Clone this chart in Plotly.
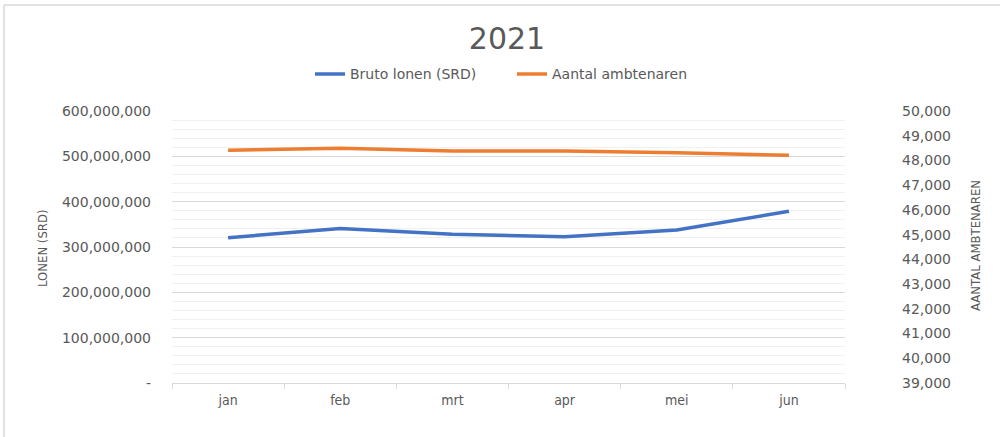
import plotly.graph_objects as go

months = ["jan", "feb", "mrt", "apr", "mei", "jun"]
bruto_lonen = [320500000, 341000000, 328000000, 322700000, 337500000, 378700000]
ambtenaren = [48410, 48490, 48380, 48380, 48310, 48210]

left_ticks = [0, 100e6, 200e6, 300e6, 400e6, 500e6, 600e6]
left_text = ["-", "100,000,000", "200,000,000", "300,000,000",
             "400,000,000", "500,000,000", "600,000,000"]

narrow = "Liberation Sans Narrow, DejaVu Sans Condensed, Arial Narrow, sans-serif"
wide = "DejaVu Sans, Verdana, sans-serif"
grey = "#595959"

fig = go.Figure()
fig.add_trace(go.Scatter(x=months, y=bruto_lonen, mode="lines",
                         name="Bruto lonen (SRD)",
                         line=dict(color="#4472C4", width=3.5)))
fig.add_trace(go.Scatter(x=months, y=ambtenaren, mode="lines",
                         name="Aantal ambtenaren", yaxis="y2",
                         line=dict(color="#ED7D31", width=3.5)))

fig.update_layout(
    width=1000, height=437,
    margin=dict(l=172, r=155, t=111, b=54),
    paper_bgcolor="white", plot_bgcolor="white",
    showlegend=True,
    title=dict(text="2021", x=0.507, xanchor="center", y=0.913, yanchor="middle",
               font=dict(family=wide, size=30, color=grey)),
    legend=dict(orientation="h", x=(310 - 172) / 673, xanchor="left", y=1.135,
                yanchor="middle", font=dict(family=wide, size=14, color=grey),
                entrywidth=157, tracegroupgap=0),
    xaxis=dict(type="category", range=[-0.5, 5.5], showgrid=False, showline=True,
               linecolor="#D9D9D9", ticks="outside", tickson="boundaries", ticklen=5,
               tickcolor="#D9D9D9", ticklabelstandoff=4,
               tickfont=dict(family=narrow, size=14, color=grey), fixedrange=True),
    yaxis=dict(range=[0, 600e6], tickvals=left_ticks, ticktext=left_text,
               showgrid=True, gridcolor="#D9D9D9", gridwidth=1, zeroline=False,
               minor=dict(dtick=20e6, showgrid=True, gridcolor="#F0F0F0", gridwidth=1),
               tickfont=dict(family=wide, size=14, color=grey),
               ticklabelstandoff=20),
    yaxis2=dict(range=[39000, 50000], dtick=1000, tickformat=",d", overlaying="y",
                side="right", showgrid=False, zeroline=False,
                tickfont=dict(family=wide, size=14, color=grey),
                ticklabelstandoff=56),
    annotations=[
        dict(text="LONEN (SRD)", textangle=-90, xref="paper", yref="paper",
             x=(42 - 172) / 673, y=(383 - 248) / 272, xanchor="center", yanchor="middle",
             showarrow=False, font=dict(family=narrow, size=13, color=grey)),
        dict(text="AANTAL AMBTENAREN", textangle=-90, xref="paper", yref="paper",
             x=(975 - 172) / 673, y=(383 - 246) / 272, xanchor="center", yanchor="middle",
             showarrow=False, font=dict(family=narrow, size=13, color=grey)),
    ],
    shapes=[
        dict(type="line", xref="paper", yref="paper",
             x0=(4 - 172) / 673, x1=(4 - 172) / 673, y0=(383 - 5) / 272, y1=(383 - 437) / 272,
             line=dict(color="#D9D9D9", width=1.5)),
        dict(type="line", xref="paper", yref="paper",
             x0=(4 - 172) / 673, x1=(1000 - 172) / 673, y0=(383 - 5) / 272, y1=(383 - 5) / 272,
             line=dict(color="#D9D9D9", width=1.5)),
    ],
)

fig.write_html("out.html", config={"displayModeBar": False},
               post_script="document.body.style.margin='0';")
